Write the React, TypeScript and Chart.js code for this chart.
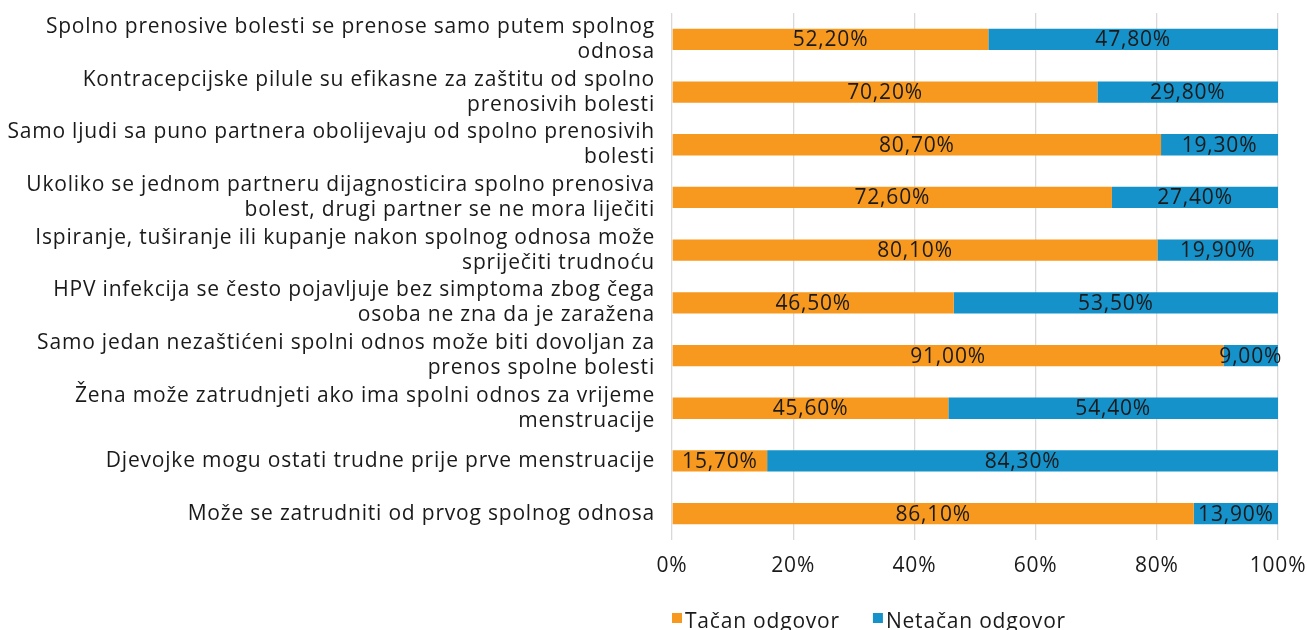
import React, { useEffect, useRef } from "react";
import { Chart, registerables } from "chart.js";

Chart.register(...registerables);

const categories: (string | string[])[] = [
  ["Spolno prenosive bolesti se prenose samo putem spolnog", "odnosa"],
  ["Kontracepcijske pilule su efikasne za zaštitu od spolno", "prenosivih bolesti"],
  ["Samo ljudi sa puno partnera obolijevaju od spolno prenosivih", "bolesti"],
  ["Ukoliko se jednom partneru dijagnosticira spolno prenosiva", "bolest, drugi partner se ne mora liječiti"],
  ["Ispiranje, tuširanje ili kupanje nakon spolnog odnosa može", "spriječiti trudnoću"],
  ["HPV infekcija se često pojavljuje bez simptoma zbog čega", "osoba ne zna da je zaražena"],
  ["Samo jedan nezaštićeni spolni odnos može biti dovoljan za", "prenos spolne bolesti"],
  ["Žena može zatrudnjeti ako ima spolni odnos za vrijeme", "menstruacije"],
  "Djevojke mogu ostati trudne prije prve menstruacije",
  "Može se zatrudniti od prvog spolnog odnosa",
];

const correct = [52.2, 70.2, 80.7, 72.6, 80.1, 46.5, 91.0, 45.6, 15.7, 86.1];
const incorrect = [47.8, 29.8, 19.3, 27.4, 19.9, 53.5, 9.0, 54.4, 84.3, 13.9];

const seriesNames = ["Tačan odgovor", "Netačan odgovor"];
const seriesColors = ["#F7991F", "#1592CA"];

const FONT = "'Open Sans', 'Noto Sans', sans-serif";
const FONT_SIZE = 21;
const TEXT = "#1a1a1a";
const SPACING = "0.8px";

const fmt = (v: number) => v.toFixed(2).replace(".", ",") + "%";

const textSpacing = {
  id: "textSpacing",
  beforeDraw(chart: any) {
    chart.ctx.letterSpacing = SPACING;
  },
};

const dataLabels = {
  id: "dataLabels",
  afterDatasetsDraw(chart: any) {
    const ctx = chart.ctx;
    ctx.save();
    ctx.letterSpacing = SPACING;
    ctx.font = `${FONT_SIZE}px ${FONT}`;
    ctx.fillStyle = TEXT;
    ctx.textAlign = "center";
    ctx.textBaseline = "middle";
    chart.data.datasets.forEach((ds: any, di: number) => {
      const meta = chart.getDatasetMeta(di);
      meta.data.forEach((el: any, i: number) => {
        const p = el.getProps(["x", "y", "base"], true);
        ctx.fillText(fmt(ds.data[i]), (p.x + p.base) / 2, p.y + 1);
      });
    });
    ctx.restore();
  },
};

const bottomLegend = {
  id: "bottomLegend",
  afterDraw(chart: any) {
    const ctx = chart.ctx;
    ctx.save();
    ctx.letterSpacing = SPACING;
    ctx.font = `${FONT_SIZE}px ${FONT}`;
    ctx.textBaseline = "alphabetic";
    ctx.textAlign = "left";
    let x = chart.chartArea.left;
    const boxTop = 613;
    const base = 628;
    chart.data.datasets.forEach((ds: any) => {
      ctx.fillStyle = ds.backgroundColor;
      ctx.fillRect(x, boxTop, 10, 10);
      ctx.fillStyle = TEXT;
      ctx.fillText(ds.label, x + 13, base);
      x += 13 + ctx.measureText(ds.label).width + 33;
    });
    ctx.restore();
  },
};

export default function App() {
  const ref = useRef<HTMLCanvasElement | null>(null);
  useEffect(() => {
    if (!ref.current) return;
    const chart = new Chart(ref.current, {
      type: "bar",
      data: {
        labels: categories,
        datasets: [
          { label: seriesNames[0], data: correct, backgroundColor: seriesColors[0] },
          { label: seriesNames[1], data: incorrect, backgroundColor: seriesColors[1] },
        ],
      },
      options: {
        indexAxis: "y",
        responsive: false,
        animation: false,
        layout: { padding: { top: 13, right: 29, left: 0, bottom: 0 } },
        datasets: {
          bar: { categoryPercentage: 1, barPercentage: 0.405, borderWidth: 0 },
        },
        plugins: {
          legend: { display: false },
          tooltip: { enabled: false },
        },
        scales: {
          x: {
            stacked: true,
            min: 0,
            max: 100,
            ticks: {
              stepSize: 20,
              callback: (v: any) => v + "%",
              font: { family: FONT, size: FONT_SIZE },
              color: TEXT,
              padding: 13,
            },
            grid: { color: "#d9d9d9", lineWidth: 1.3, drawTicks: false },
            border: { display: false },
            afterFit: (s: any) => {
              s.height = 90;
              s.paddingLeft = 0;
              s.paddingRight = 0;
            },
          },
          y: {
            stacked: true,
            ticks: {
              font: { family: FONT, size: FONT_SIZE, lineHeight: 1.19 },
              color: TEXT,
              padding: 17,
              autoSkip: false,
            },
            grid: { display: false, drawTicks: false },
            border: { display: false },
            afterFit: (s: any) => {
              s.width = 672;
              s.paddingTop = 0;
              s.paddingBottom = 0;
            },
          },
        },
      },
      plugins: [textSpacing, dataLabels, bottomLegend],
    } as any);
    return () => chart.destroy();
  }, []);
  return (
    <div style={{ position: "absolute", left: 0, top: 0, width: 1307, height: 630, overflow: "hidden", background: "#fff" }}>
      <canvas ref={ref} width={1307} height={630} />
    </div>
  );
}
